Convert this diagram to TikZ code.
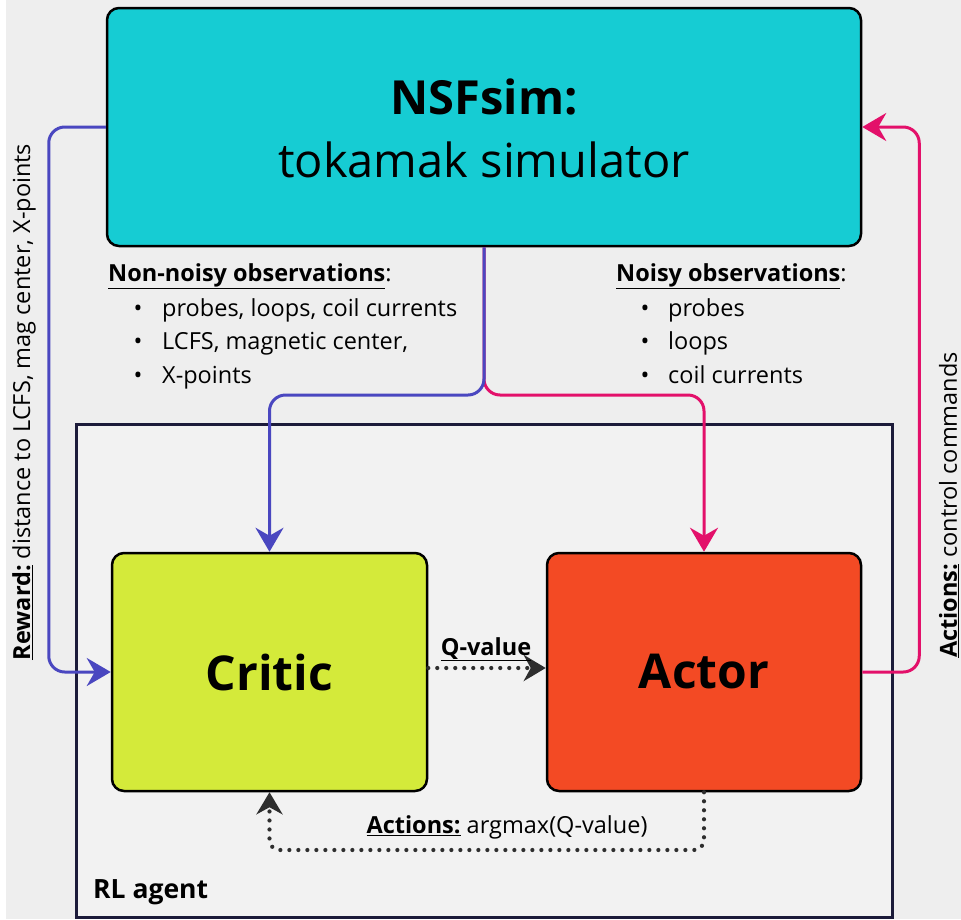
\documentclass[tikz,border=0pt]{standalone}
\usepackage{fontspec}
\setmainfont{Open Sans}
\usetikzlibrary{arrows.meta}
\definecolor{bggray}{HTML}{EEEEEE}
\definecolor{agentfill}{HTML}{F2F2F2}
\definecolor{agentline}{HTML}{1C1B3A}
\definecolor{nsfcyan}{HTML}{16CCD3}
\definecolor{criticgreen}{HTML}{D4EA3A}
\definecolor{actorred}{HTML}{F34A24}
\definecolor{flowblue}{HTML}{4A47C0}
\definecolor{flowpink}{HTML}{E3106A}
\definecolor{dotgray}{HTML}{2E2E2E}
\tikzset{
  blockbox/.style={draw=black, line width=2.5pt, rounded corners=12pt, inner sep=0pt},
  bluearr/.style={draw=flowblue, line width=3pt, rounded corners=16pt, -{Stealth[length=24pt,width=28pt,inset=8pt]}},
  pinkarr/.style={draw=flowpink, line width=3pt, rounded corners=16pt, -{Stealth[length=24pt,width=28pt,inset=8pt]}},
  dotarr/.style={draw=dotgray, line width=4.2pt, line cap=round, dash pattern=on 0pt off 9pt, rounded corners=10pt, -{Stealth[length=22pt,width=26pt,inset=7pt]}},
  smalltxt/.style={inner sep=0pt, font=\fontsize{23.5}{28}\selectfont},
}
\begin{document}
\begin{tikzpicture}[x=1pt,y=-1pt]
\useasboundingbox (0,0) rectangle (961,919);
\fill[white] (0,0) rectangle (961,919);
\fill[bggray] (6,0) rectangle (961,919);

% RL agent container
\node[draw=agentline, fill=agentfill, line width=3pt, minimum width=816pt, minimum height=493pt, inner sep=0pt] (agent) at (484,670.5) {};
\node[anchor=base west, inner sep=0pt, font=\fontsize{26.5}{30}\selectfont\bfseries] (agentlbl) at (93,898) {RL agent};

% main blocks
\node[blockbox, fill=nsfcyan, minimum width=754pt, minimum height=238pt] (nsf) at (484,127) {};
\node[inner sep=0pt, font=\fontsize{47}{55}\selectfont\bfseries] (nsft1) at (484,97) {NSFsim:};
\node[inner sep=0pt, font=\fontsize{47}{55}\selectfont] (nsft2) at (484,160) {tokamak simulator};

\node[blockbox, fill=criticgreen, minimum width=315pt, minimum height=238pt, font=\fontsize{48}{56}\selectfont\bfseries] (critic) at (269.5,672) {Critic};
\node[blockbox, fill=actorred, minimum width=314pt, minimum height=238pt, font=\fontsize{48}{56}\selectfont\bfseries] (actor) at (704,672) {Actor};

% observation connectors
\coordinate (split) at (484,395);
\draw[pinkarr] (nsf.south) -- (split) -| (actor.north);
\draw[bluearr] (nsf.south) -- (split) -| (critic.north);

% reward and actions loops
\draw[bluearr] (nsf.west) -- ++(-57,0) |- (critic.west);
\draw[pinkarr] (actor.east) -- ++(57,0) |- (nsf.east);

% Q-value and argmax loop
\draw[dotarr] ([yshift=4pt]critic.east) -- ([yshift=4pt]actor.west);
\node[smalltxt, anchor=base, font=\fontsize{23.5}{28}\selectfont\bfseries] (qlbl) at (486,655) {\underline{Q-value}};
\coordinate (loopr) at (704,850);
\coordinate (loopl) at (269.5,850);
\draw[dotarr] (actor.south) -- (loopr) -- (loopl) -- (critic.south);
\node[smalltxt, anchor=base] (actlbl) at (507,833) {\textbf{\underline{Actions:}} argmax(Q-value)};

% observation texts
\node[smalltxt, anchor=base west] (nnh) at (108,281) {\textbf{\underline{Non-noisy observations}}:};
\node[smalltxt, anchor=base] (nnb1) at (138,316) {\textbullet};
\node[smalltxt, anchor=base] (nnb2) at (138,349.5) {\textbullet};
\node[smalltxt, anchor=base] (nnb3) at (138,383) {\textbullet};
\node[smalltxt, anchor=base west] (nn1) at (162,316) {probes, loops, coil currents};
\node[smalltxt, anchor=base west] (nn2) at (162,349.5) {LCFS, magnetic center,};
\node[smalltxt, anchor=base west] (nn3) at (162,383) {X-points};

\node[smalltxt, anchor=base west] (nyh) at (616,281) {\textbf{\underline{Noisy observations}}:};
\node[smalltxt, anchor=base] (nyb1) at (645,316) {\textbullet};
\node[smalltxt, anchor=base] (nyb2) at (645,349.5) {\textbullet};
\node[smalltxt, anchor=base] (nyb3) at (645,383) {\textbullet};
\node[smalltxt, anchor=base west] (ny1) at (668,316) {probes};
\node[smalltxt, anchor=base west] (ny2) at (668,349.5) {loops};
\node[smalltxt, anchor=base west] (ny3) at (668,383) {coil currents};

% side labels
\node[smalltxt, rotate=90] (rewlbl) at (24,402) {\textbf{\underline{Reward:}} distance to LCFS, mag center, X-points};
\node[smalltxt, rotate=90] (actslbl) at (949,505) {\textbf{\underline{Actions:}} control commands};
\end{tikzpicture}
\end{document}
